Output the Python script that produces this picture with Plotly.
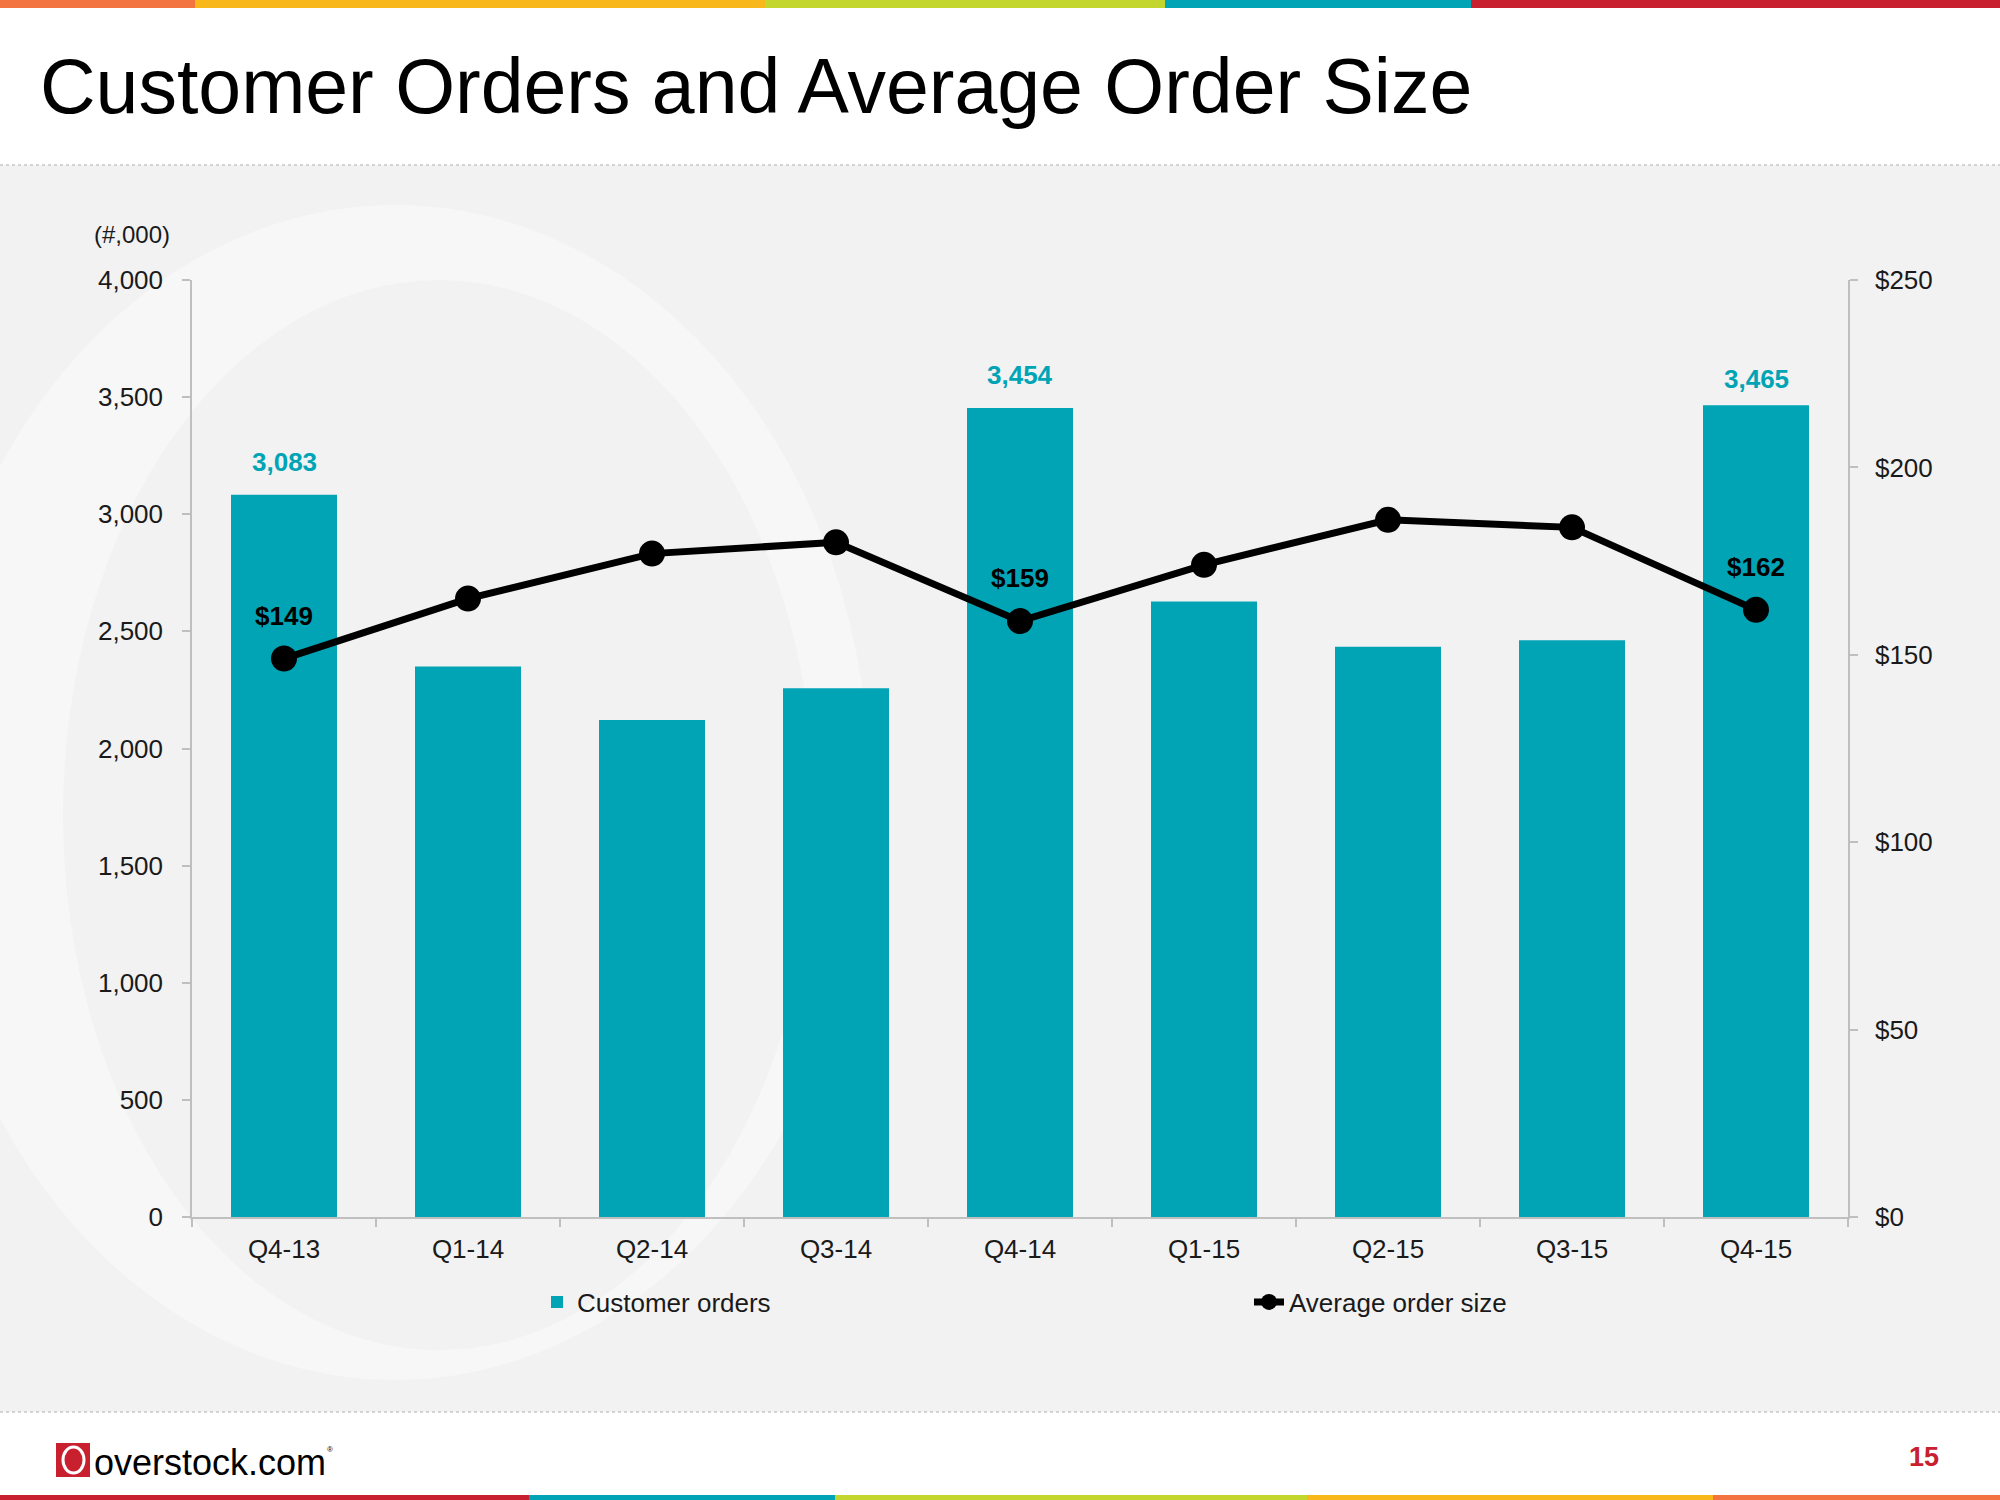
import plotly.graph_objects as go

# данные
quarters = ["Q4-13", "Q1-14", "Q2-14", "Q3-14", "Q4-14", "Q1-15", "Q2-15", "Q3-15", "Q4-15"]
orders = [3083, 2350, 2122, 2257, 3454, 2628, 2434, 2462, 3465]
avg_order = [149, 165, 177, 180, 159, 174, 186, 184, 162]
labeled = ["Q4-13", "Q4-14", "Q4-15"]

TEAL = "#00A4B5"
GRID = "#bfbfbf"
FONT = "Liberation Sans, Arial, sans-serif"

W, H = 2000, 1500
def px(x): return x / W
def py(y): return 1 - y / H

fig = go.Figure()
fig.add_trace(go.Bar(x=quarters, y=orders, name="Customer orders",
                     marker=dict(color=TEAL, line=dict(width=0))))
fig.add_trace(go.Scatter(x=quarters, y=avg_order, name="Average order size",
                         yaxis="y2", mode="lines+markers",
                         line=dict(color="black", width=7),
                         marker=dict(color="black", size=26)))

shapes = []
# фон слайда
shapes.append(dict(type="rect", xref="paper", yref="paper", x0=0, x1=1,
                   y0=py(1412), y1=py(165), fillcolor="#f2f2f2",
                   line=dict(width=0), layer="below"))
# водяной знак "O"
shapes.append(dict(type="circle", xref="paper", yref="paper", x0=px(-80), x1=px(870),
                   y0=py(1380), y1=py(205), fillcolor="#f7f7f7",
                   line=dict(width=0), layer="below"))
shapes.append(dict(type="circle", xref="paper", yref="paper", x0=px(63), x1=px(815),
                   y0=py(1350), y1=py(280), fillcolor="#f2f2f2",
                   line=dict(width=0), layer="below"))
# пунктирные линии
for yy in (165, 1412):
    shapes.append(dict(type="line", xref="paper", yref="paper", x0=0, x1=1,
                       y0=py(yy), y1=py(yy), line=dict(color="#c8c8c8", width=1.5, dash="dot")))
# цветные полосы сверху и снизу
top_bar = [(0, 195, "#F37440"), (195, 765, "#F8B81B"), (765, 1165, "#C2D62E"),
           (1165, 1471, TEAL), (1471, 2000, "#C8202F")]
for a, b, c in top_bar:
    shapes.append(dict(type="rect", xref="paper", yref="paper", x0=px(a), x1=px(b),
                       y0=py(8), y1=1, fillcolor=c, line=dict(width=0)))
bottom_bar = [(0, 529, "#C8202F"), (529, 835, TEAL), (835, 1307, "#C2D62E"),
              (1307, 1713, "#F8B81B"), (1713, 2000, "#F37440")]
for a, b, c in bottom_bar:
    shapes.append(dict(type="rect", xref="paper", yref="paper", x0=px(a), x1=px(b),
                       y0=0, y1=py(1495), fillcolor=c, line=dict(width=0)))
# логотип
shapes.append(dict(type="rect", xref="paper", yref="paper", x0=px(56), x1=px(90),
                   y0=py(1477), y1=py(1443), fillcolor="#C8202F", line=dict(width=0)))
shapes.append(dict(type="circle", xref="paper", yref="paper", x0=px(63), x1=px(84),
                   y0=py(1473), y1=py(1447), line=dict(color="white", width=3)))

annotations = [
    dict(text="Customer Orders and Average Order Size", xref="paper", yref="paper",
         x=px(38), y=py(86), xanchor="left", yanchor="middle", showarrow=False,
         font=dict(size=77, color="black", family=FONT)),
    dict(text="(#,000)", xref="paper", yref="paper", x=px(172), y=py(234),
         xanchor="right", yanchor="middle", showarrow=False,
         font=dict(size=24, color="#1a1a1a", family=FONT)),
    dict(text="overstock.com", xref="paper", yref="paper", x=px(92), y=py(1462),
         xanchor="left", yanchor="middle", showarrow=False,
         font=dict(size=36, color="black", family=FONT)),
    dict(text="®", xref="paper", yref="paper", x=px(325), y=py(1449),
         xanchor="left", yanchor="middle", showarrow=False,
         font=dict(size=8, color="black", family=FONT)),
    dict(text="<b>15</b>", xref="paper", yref="paper", x=px(1924), y=py(1457),
         xanchor="center", yanchor="middle", showarrow=False,
         font=dict(size=27, color="#C8202F", family=FONT)),
]
# отступы подписей над столбцами
bar_label_shift = {"Q4-13": 16, "Q4-14": 16, "Q4-15": 9}
for q, v in zip(quarters, orders):
    if q in labeled:
        annotations.append(dict(text=f"<b>{v:,}</b>", x=q, y=v, xref="x", yref="y",
                                yanchor="bottom", yshift=bar_label_shift[q], showarrow=False,
                                font=dict(size=26, color=TEAL, family=FONT)))
for q, v in zip(quarters, avg_order):
    if q in labeled:
        annotations.append(dict(text=f"<b>${v}</b>", x=q, y=v, xref="x", yref="y2",
                                yanchor="bottom", yshift=26, showarrow=False,
                                font=dict(size=26, color="black", family=FONT)))

axis_common = dict(showline=True, linecolor=GRID, linewidth=1.5, ticks="outside",
                   ticklen=8, tickcolor=GRID, tickwidth=1.5, showgrid=False,
                   zeroline=False, automargin=False,
                   tickfont=dict(size=26, color="#1a1a1a", family=FONT))

fig.update_layout(
    width=W, height=H,
    margin=dict(l=0, r=0, t=0, b=0),
    paper_bgcolor="white", plot_bgcolor="rgba(0,0,0,0)",
    font=dict(family=FONT, color="#1a1a1a"),
    bargap=0.424,
    xaxis=dict(domain=[px(192), px(1848)], range=[-0.5, len(quarters) - 0.5],
               tickson="boundaries", ticklabelstandoff=8, **axis_common),
    yaxis=dict(domain=[py(1217), py(280)], range=[0, 4000], dtick=500,
               tickformat=",", ticklabelstandoff=14, **axis_common),
    yaxis2=dict(overlaying="y", side="right", anchor="x", range=[0, 250], dtick=50,
                tickprefix="$", ticklabelstandoff=12, **axis_common),
    legend=dict(orientation="h", x=px(537), y=py(1302), xanchor="left", yanchor="middle",
                entrywidth=667, font=dict(size=26, color="#1a1a1a", family=FONT),
                bgcolor="rgba(0,0,0,0)", traceorder="normal"),
    shapes=shapes,
    annotations=annotations,
)

fig.write_html("out.html", config={"displayModeBar": False},
               post_script="document.body.style.margin='0';document.body.style.overflow='hidden';")
